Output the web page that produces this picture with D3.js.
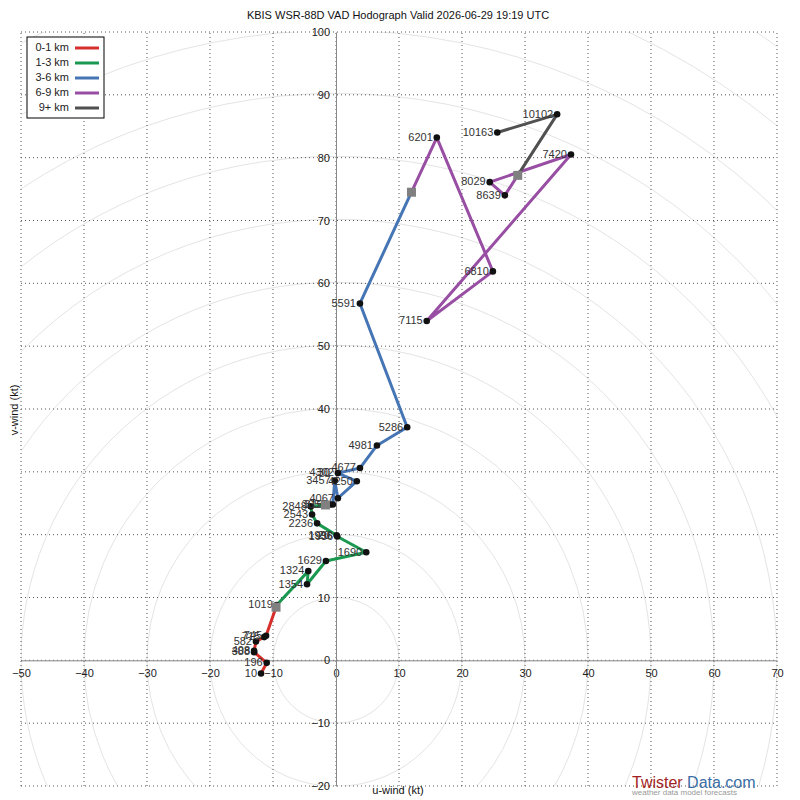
<!DOCTYPE html>
<html>
<head>
<meta charset="utf-8">
<title>Hodograph</title>
<script src="https://d3js.org/d3.v7.min.js"></script>
<style>
  body { margin: 0; background: #fff; }
  text { font-family: "Liberation Sans", Arial, sans-serif; }
</style>
</head>
<body>
<script>
// VAD levels (m AGL) and wind components (kt)
var heights = [10, 196, 388, 408, 582, 715, 745, 1019, 1324, 1354, 1629, 1690, 1936, 1996, 2236, 2543, 2848,
               3050, 3153, 3457, 4067, 4250, 4302, 4677, 4981, 5286, 5591, 6201, 6810, 7115, 7420, 8029, 8639,
               10102, 10163];
var uWind = [-11.9, -11.0, -13.0, -13.0, -12.7, -11.4, -11.1, -9.4, -4.4, -4.6, -1.6, 4.8, 0.2, 0.1, -3.0, -3.8, -4.0,
             -0.9, -0.5, -0.2, 0.3, 3.3, 0.3, 3.8, 6.5, 11.3, 3.8, 16.0, 24.9, 14.4, 37.3, 24.4, 26.8,
             35.1, 25.6];
var vWind = [-2.1, -0.4, 1.3, 1.5, 3.0, 3.7, 3.9, 8.8, 14.2, 12.1, 15.8, 17.2, 19.7, 19.9, 21.8, 23.2, 24.5,
             24.8, 24.8, 28.6, 25.8, 28.5, 29.8, 30.6, 34.2, 37.1, 56.8, 83.2, 61.9, 54.0, 80.5, 76.1, 74.0,
             86.9, 84.0];

var layerNames = ['0-1 km', '1-3 km', '3-6 km', '6-9 km', '9+ km'];
var layerTops = [1000, 3000, 6000, 9000, 99999];
var layerColors = ['#d7302c', '#1a9850', '#4575b4', '#984ea3', '#505050'];

var xTicks = d3.range(-50, 71, 10);
var yTicks = d3.range(-20, 101, 10);
var rings = d3.range(10, 131, 10);

var W = 800, H = 800;
var svg = d3.select('body').append('svg').attr('width', W).attr('height', H);

var x = d3.scaleLinear().domain([-50, 70]).range([21, 777]);
var y = d3.scaleLinear().domain([-20, 100]).range([786, 32]);

svg.append('defs').append('clipPath').attr('id', 'plot')
  .append('rect').attr('x', x(-50)).attr('y', y(100))
  .attr('width', x(70) - x(-50)).attr('height', y(-20) - y(100));

// range rings
svg.append('g').attr('clip-path', 'url(#plot)')
  .selectAll('circle').data(rings).enter().append('circle')
  .attr('cx', x(0)).attr('cy', y(0))
  .attr('r', function(d) { return x(d) - x(0); })
  .attr('fill', 'none').attr('stroke', '#e4e4e4').attr('stroke-width', 1);

// dotted grid
var grid = svg.append('g').attr('stroke', '#555').attr('stroke-dasharray', '1,3').attr('stroke-width', 1);
grid.selectAll('.gx').data(xTicks).enter().append('line')
  .attr('x1', function(d) { return x(d); }).attr('x2', function(d) { return x(d); })
  .attr('y1', y(-20)).attr('y2', y(100));
grid.selectAll('.gy').data(yTicks).enter().append('line')
  .attr('y1', function(d) { return y(d); }).attr('y2', function(d) { return y(d); })
  .attr('x1', x(-50)).attr('x2', x(70));

// axes through the origin
var ax = svg.append('g').attr('transform', 'translate(0,' + y(0) + ')')
  .call(d3.axisBottom(x).tickValues(xTicks).tickSize(0).tickPadding(9));
var ay = svg.append('g').attr('transform', 'translate(' + x(0) + ',0)')
  .call(d3.axisLeft(y).tickValues(yTicks).tickSize(0).tickPadding(6));
[ax, ay].forEach(function(g) {
  g.select('.domain').attr('stroke', '#888').attr('stroke-width', 1);
  g.selectAll('text').attr('font-size', 11).attr('fill', '#222')
    .attr('font-family', '"Liberation Sans", Arial, sans-serif');
});

// build layer segments with interpolated boundary points
function interp(h) {
  for (var i = 1; i < heights.length; i++) {
    if (heights[i] >= h) {
      var f = (h - heights[i - 1]) / (heights[i] - heights[i - 1]);
      return [uWind[i - 1] + f * (uWind[i] - uWind[i - 1]), vWind[i - 1] + f * (vWind[i] - vWind[i - 1])];
    }
  }
  return null;
}
var boundaries = [];
var segments = layerTops.map(function(top, k) {
  var bottom = k === 0 ? 0 : layerTops[k - 1];
  var pts = [];
  if (k > 0) { var b = interp(bottom); if (b) pts.push(b); }
  heights.forEach(function(h, i) {
    if (h >= bottom && h < top) pts.push([uWind[i], vWind[i]]);
  });
  var t = interp(top);
  if (t) { pts.push(t); boundaries.push(t); }
  return pts;
});

var line = d3.line().x(function(d) { return x(d[0]); }).y(function(d) { return y(d[1]); });
svg.append('g').selectAll('path').data(segments).enter().append('path')
  .attr('d', line).attr('fill', 'none')
  .attr('stroke', function(d, i) { return layerColors[i]; })
  .attr('stroke-width', 3).attr('stroke-linejoin', 'round');

// points
svg.append('g').selectAll('circle').data(heights).enter().append('circle')
  .attr('cx', function(d, i) { return x(uWind[i]); })
  .attr('cy', function(d, i) { return y(vWind[i]); })
  .attr('r', 3.3).attr('fill', '#111');

svg.append('g').selectAll('text').data(heights).enter().append('text')
  .attr('x', function(d, i) { return x(uWind[i]) - 4; })
  .attr('y', function(d, i) { return y(vWind[i]); })
  .attr('dy', '0.3em').attr('text-anchor', 'end')
  .attr('font-size', 11).attr('fill', '#333')
  .text(function(d) { return d; });

// layer boundary markers
svg.append('g').selectAll('rect').data(boundaries).enter().append('rect')
  .attr('x', function(d) { return x(d[0]) - 4.5; })
  .attr('y', function(d) { return y(d[1]) - 4.5; })
  .attr('width', 9).attr('height', 9).attr('fill', '#808080');

// title and axis titles
svg.append('text').attr('x', 398).attr('y', 19).attr('text-anchor', 'middle')
  .attr('font-size', 11).attr('fill', '#111')
  .text('KBIS WSR-88D VAD Hodograph Valid 2026-06-29 19:19 UTC');
svg.append('text').attr('x', 398).attr('y', 794).attr('text-anchor', 'middle')
  .attr('font-size', 11).attr('fill', '#111').text('u-wind (kt)');
svg.append('text').attr('transform', 'translate(18,410) rotate(-90)').attr('text-anchor', 'middle')
  .attr('font-size', 11).attr('fill', '#111').text('v-wind (kt)');

// legend
var lg = svg.append('g').attr('transform', 'translate(27,37)');
lg.append('rect').attr('width', 77).attr('height', 81).attr('fill', '#fff')
  .attr('stroke', '#000').attr('stroke-width', 1);
layerNames.forEach(function(name, i) {
  var ly = 10 + i * 15;
  lg.append('text').attr('x', 42).attr('y', ly).attr('dy', '0.35em').attr('text-anchor', 'end')
    .attr('font-size', 11).attr('fill', '#222').text(name);
  lg.append('line').attr('x1', 48).attr('x2', 72).attr('y1', ly + 1).attr('y2', ly + 1)
    .attr('stroke', layerColors[i]).attr('stroke-width', 3);
});

// watermark
var wm = svg.append('text').attr('x', 632).attr('y', 788).attr('font-size', 16);
wm.append('tspan').attr('fill', '#a31f24').text('Twister');
wm.append('tspan').attr('fill', '#3a6ea5').text(' Data.com');
svg.append('text').attr('x', 632).attr('y', 795).attr('font-size', 8).attr('fill', '#999')
  .text('weather data model forecasts');
</script>
</body>
</html>
